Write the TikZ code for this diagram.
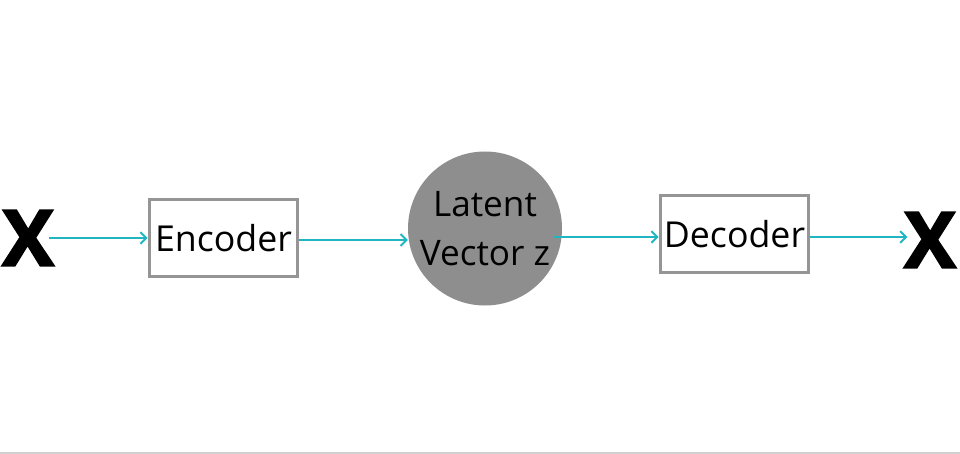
\documentclass[tikz,border=0pt]{standalone}
\usepackage{fontspec}
\setmainfont{Open Sans}
\newfontfamily\heavyfont{Open Sans}[BoldFeatures={FakeBold=2.5}]
\usetikzlibrary{arrows.meta}
\definecolor{flowteal}{HTML}{1FB6C2}
\definecolor{boxgray}{HTML}{959595}
\definecolor{latentgray}{HTML}{8E8E8E}
\begin{document}
\begin{tikzpicture}[x=0.03cm, y=-0.03cm,
  blockbox/.style={draw=boxgray,line width=3pt,fill=white,minimum width=4.45cm,minimum height=2.3cm,inner sep=0pt,font=\fontsize{30.5}{34}\selectfont},
  latentnode/.style={circle,fill=latentgray,minimum size=4.62cm,inner sep=0pt,align=center,font=\fontsize{30}{42}\selectfont},
  signal/.style={inner sep=0pt,font=\heavyfont\fontsize{66}{66}\selectfont\bfseries},
  flow/.style={draw=flowteal,line width=1.6pt,-{Straight Barb[length=5pt,width=10pt,line width=1.6pt]}}]
\useasboundingbox (0,0) rectangle (960,454);
\fill[white] (0,0) rectangle (960,454);
\draw[black!18,line width=1.6pt] (0,453) -- (960,453);
% blocks
\node[signal] (xin) at (28,238) {X};
\node[blockbox] (enc) at (223.5,238) {Encoder};
\node[latentnode] (lat) at (485,228.5) {Latent\\Vector z};
\node[blockbox] (dec) at (734.5,234) {Decoder};
\node[signal] (xout) at (930,240) {X};
% connectors
\draw[flow] ([xshift=-0.15cm]xin.east |- 0,238) -- (enc.west |- 0,238);
\draw[flow] (enc.east |- 0,240) -- (lat.west |- 0,240);
\draw[flow] ([xshift=-0.25cm]lat.east |- 0,237) -- (dec.west |- 0,237);
\draw[flow] (dec.east |- 0,237) -- ([xshift=0.1cm]xout.west |- 0,237);
\end{tikzpicture}
\end{document}
